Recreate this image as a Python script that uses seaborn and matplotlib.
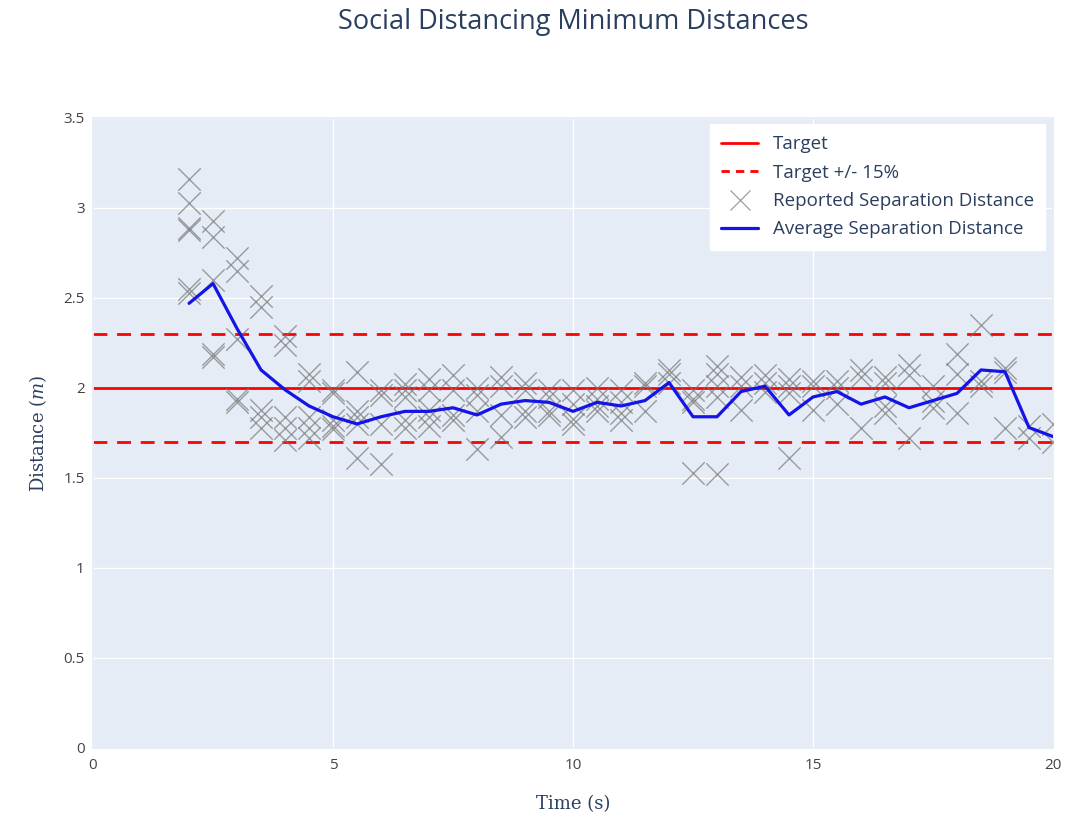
import pandas as pd
import matplotlib.pyplot as plt
import seaborn as sns
from matplotlib.lines import Line2D

# reported minimum distances, grouped by time stamp
times = [2.0, 2.5, 3.0, 3.5, 4.0, 4.5, 5.0, 5.5, 6.0, 6.5, 7.0, 7.5, 8.0, 8.5,
         9.0, 9.5, 10.0, 10.5, 11.0, 11.5, 12.0, 12.5, 13.0, 13.5, 14.0, 14.5,
         15.0, 15.5, 16.0, 16.5, 17.0, 17.5, 18.0, 18.5, 19.0, 19.5, 20.0]

reported = [
    [3.16, 3.03, 2.89, 2.88, 2.55, 2.53],
    [2.93, 2.84, 2.60, 2.19, 2.17],
    [2.72, 2.65, 2.27, 1.94, 1.92],
    [2.51, 2.45, 1.88, 1.84, 1.78],
    [2.29, 2.24, 1.84, 1.78, 1.71],
    [2.08, 2.04, 1.84, 1.78, 1.72],
    [1.99, 1.97, 1.82, 1.79, 1.77],
    [2.09, 1.87, 1.84, 1.80, 1.61],
    [1.99, 1.96, 1.80, 1.58],
    [2.02, 1.99, 1.95, 1.82, 1.78],
    [2.05, 1.99, 1.88, 1.84, 1.79],
    [2.07, 1.99, 1.85, 1.82],
    [2.00, 1.96, 1.87, 1.66],
    [2.06, 2.01, 1.85, 1.73],
    [2.03, 1.99, 1.87, 1.84],
    [1.99, 1.95, 1.87, 1.85],
    [1.99, 1.91, 1.83, 1.80],
    [2.00, 1.94, 1.90, 1.87],
    [1.99, 1.92, 1.86, 1.82],
    [2.03, 2.01, 1.87],
    [2.10, 2.08, 2.03],
    [1.99, 1.94, 1.92, 1.53],
    [2.12, 2.08, 2.01, 1.95, 1.52],
    [2.06, 2.01, 1.88],
    [2.07, 2.03, 1.98],
    [2.05, 2.01, 1.97, 1.61],
    [2.04, 2.01, 1.88],
    [2.04, 2.00, 1.91],
    [2.10, 2.06, 1.78],
    [2.06, 2.03, 1.90, 1.86],
    [2.13, 2.07, 1.72],
    [2.01, 1.93, 1.89],
    [2.19, 2.08, 1.86],
    [2.35, 2.04, 2.01],
    [2.11, 2.09, 1.78],
    [1.79, 1.72],
    [1.80, 1.70],
]

average = [2.47, 2.58, 2.33, 2.10, 1.99, 1.90, 1.84, 1.80, 1.84, 1.87, 1.87,
           1.89, 1.85, 1.91, 1.93, 1.92, 1.87, 1.92, 1.90, 1.93, 2.03, 1.84,
           1.84, 1.98, 2.01, 1.85, 1.95, 1.98, 1.91, 1.95, 1.89, 1.93, 1.97,
           2.10, 2.09, 1.78, 1.73]

target = 2.0
tolerance = 0.15

# long table for the scatter
rows = []
for t, values in zip(times, reported):
    for v in values:
        rows.append({"time": t, "distance": v})
df_reported = pd.DataFrame(rows)
df_average = pd.DataFrame({"time": times, "distance": average})

sns.set_theme(style="darkgrid", rc={
    "axes.facecolor": "#E5ECF6",
    "grid.color": "white",
    "grid.linewidth": 1.0,
    "axes.edgecolor": "#E5ECF6",
})
plt.rcParams["font.family"] = ["Open Sans", "DejaVu Sans"]
plt.rcParams["mathtext.fontset"] = "dejavuserif"

text_color = "#2a3f5f"
tick_color = "#444444"

fig = plt.figure(figsize=(10.67, 8.19), dpi=100)
ax = fig.add_axes([0.0872, 0.0867, 0.8997, 0.7693])

ax.axhline(target, color="red", linewidth=2.0, zorder=2)
ax.axhline(target * (1 + tolerance), color="red", linewidth=2.0,
           dashes=(5, 3.5), zorder=2)
ax.axhline(target * (1 - tolerance), color="red", linewidth=2.0,
           dashes=(5, 3.5), zorder=2)

sns.scatterplot(
    data=df_reported,
    x="time",
    y="distance",
    marker="x",
    s=260,
    color="#777777",
    alpha=0.7,
    linewidth=1.0,
    ax=ax,
    zorder=3,
)

sns.lineplot(
    data=df_average,
    x="time",
    y="distance",
    color="#1414e6",
    linewidth=2.3,
    ax=ax,
    zorder=4,
)

ax.set_xlim(0, 20)
ax.set_ylim(0, 3.5)
ax.set_xticks([0, 5, 10, 15, 20])
ax.set_yticks([0, 0.5, 1, 1.5, 2, 2.5, 3, 3.5])
ax.set_yticklabels(["0", "0.5", "1", "1.5", "2", "2.5", "3", "3.5"])
ax.tick_params(axis="both", length=0, labelsize=11, colors=tick_color)
ax.tick_params(axis="y", pad=6)
ax.tick_params(axis="x", pad=7)

ax.set_xlabel("Time (s)", fontsize=13, color=text_color,
              family="DejaVu Serif", labelpad=16)
ax.set_ylabel("Distance ($m$)", fontsize=13, color=text_color,
              family="DejaVu Serif", labelpad=10)

# title centred over the plotting area
fig.suptitle("Social Distancing Minimum Distances", x=0.537, y=0.973,
             va="center", fontsize=19.5, color=text_color)

handles = [
    Line2D([], [], color="red", linewidth=2.0),
    Line2D([], [], color="red", linewidth=2.0, dashes=(3, 2.2)),
    Line2D([], [], color="#777777", marker="x", linestyle="none",
           markersize=15, markeredgewidth=0.9, alpha=0.7),
    Line2D([], [], color="#1414e6", linewidth=2.3),
]
labels = ["Target", "Target +/- 15%", "Reported Separation Distance",
          "Average Separation Distance"]
leg = ax.legend(handles, labels, loc="upper right",
                bbox_to_anchor=(0.992, 0.99), fontsize=13.5,
                frameon=True, fancybox=False, handlelength=1.95,
                handletextpad=0.8, labelspacing=0.55, borderpad=0.6,
                borderaxespad=0.0)
leg.get_frame().set_facecolor("white")
leg.get_frame().set_edgecolor("white")
leg.get_frame().set_alpha(1.0)
for txt in leg.get_texts():
    txt.set_color(text_color)

plt.savefig("out.png", dpi=100)
